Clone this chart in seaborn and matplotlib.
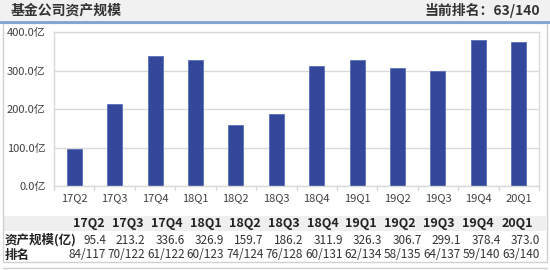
import matplotlib
matplotlib.use("Agg")
import matplotlib.pyplot as plt
import seaborn as sns
import pandas as pd
from matplotlib.patches import Rectangle
from matplotlib.lines import Line2D

quarters = ["17Q2", "17Q3", "17Q4", "18Q1", "18Q2", "18Q3", "18Q4",
            "19Q1", "19Q2", "19Q3", "19Q4", "20Q1"]
assets = [95.4, 213.2, 336.6, 326.9, 159.7, 186.2, 311.9,
          326.3, 306.7, 299.1, 378.4, 373.0]
ranks = ["84/117", "70/122", "61/122", "60/123", "74/124", "76/128",
         "60/131", "62/134", "58/135", "64/137", "59/140", "63/140"]
yticks = [0, 100, 200, 300, 400]
title = "基金公司资产规模"
current_rank = "当前排名：63/140"
row_labels = ["资产规模(亿)", "排名"]

sns.set_theme(style="white")
plt.rcParams['font.family'] = ['Noto Sans CJK SC', 'DejaVu Sans']

W, H = 550, 270
fig = plt.figure(figsize=(5.5, 2.7), dpi=100)
fig.patch.set_facecolor("white")

def fx(px):
    return px / W

def fy(py):
    return 1 - py / H

# header bar
fig.patches.append(Rectangle((0, fy(21)), 1, fy(0) - fy(21), transform=fig.transFigure,
                             facecolor="#f1f1f1", edgecolor="none", zorder=0))
fig.lines.append(Line2D([0, 1], [fy(21.5), fy(21.5)], transform=fig.transFigure,
                        color="#7fa1d3", lw=2))
fig.text(fx(11), fy(11), title, fontsize=10, fontweight="bold", color="#333333",
         ha="left", va="center")
fig.text(fx(540), fy(11), current_rank, fontsize=10, fontweight="bold", color="#333333",
         ha="right", va="center")

# outer frame
fig.patches.append(Rectangle((fx(3), fy(262)), fx(544), fy(23) - fy(262), transform=fig.transFigure,
                             facecolor="none", edgecolor="#d0d0d0", lw=1, zorder=1))
# bottom next panel edge
fig.lines.append(Line2D([fx(3), fx(547)], [fy(267.5), fy(267.5)], transform=fig.transFigure,
                        color="#d0d0d0", lw=1))

# table header background
fig.patches.append(Rectangle((fx(4), fy(231)), fx(542), fy(216) - fy(231), transform=fig.transFigure,
                             facecolor="#efefef", edgecolor="none", zorder=0))

# bar chart
ax = fig.add_axes([fx(54), fy(186), fx(539 - 54), fy(32) - fy(186)])
df = pd.DataFrame({"q": quarters, "v": assets})
sns.barplot(data=df, x="q", y="v", ax=ax, color="#33489a", width=0.37,
            saturation=1, edgecolor="#5a6fb8", linewidth=0.6)
ax.set_ylim(0, 400)
ax.set_xlim(-0.5, len(quarters) - 0.5)
ax.set_yticks(yticks)
ax.set_yticklabels([f"{v:.1f}亿" for v in yticks], fontsize=8, color="#404040")
ax.set_xticklabels(quarters, fontsize=8, color="#404040")
ax.set_xlabel("")
ax.set_ylabel("")
ax.yaxis.grid(True, color="#d9d9d9", lw=1)
ax.set_axisbelow(True)
for s in ax.spines.values():
    s.set_color("#d9d9d9")
    s.set_linewidth(1)
ax.tick_params(axis="y", length=0, pad=6)
ax.tick_params(axis="x", length=0, pad=5)
# boundary tick marks
for i in range(len(quarters) + 1):
    ax.plot([i - 0.5, i - 0.5], [0, -0.025], transform=ax.get_xaxis_transform(),
            color="#d9d9d9", lw=1, clip_on=False)

# table text
hy, r1y, r2y = 224, 240, 255
for i, q in enumerate(quarters):
    cx = 89 + i * 38.9
    rx = 106 + i * 39.45
    fig.text(fx(cx), fy(hy), q, fontsize=9, fontweight="bold", color="#222222",
             ha="center", va="center")
    fig.text(fx(rx), fy(r1y), f"{assets[i]:.1f}", fontsize=8.5, color="#333333",
             ha="right", va="center")
    fig.text(fx(rx), fy(r2y), ranks[i], fontsize=8.5, color="#333333",
             ha="right", va="center")
fig.text(fx(5), fy(r1y), row_labels[0], fontsize=9, fontweight="bold", color="#222222",
         ha="left", va="center")
fig.text(fx(5), fy(r2y), row_labels[1], fontsize=9, fontweight="bold", color="#222222",
         ha="left", va="center")

fig.savefig("out.png", dpi=100, facecolor="white")
